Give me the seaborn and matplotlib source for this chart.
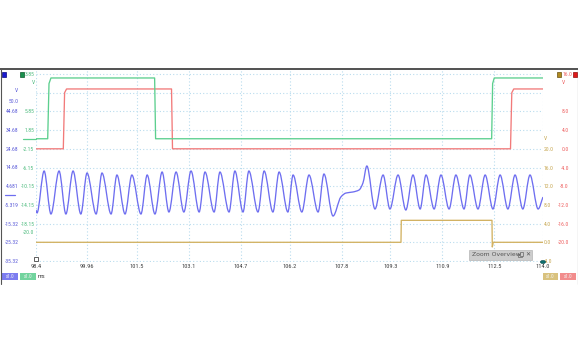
import matplotlib
matplotlib.use("Agg")
import matplotlib.pyplot as plt
import matplotlib.transforms as mtransforms
from matplotlib.patches import Rectangle, Circle, PathPatch
from matplotlib.lines import Line2D
from matplotlib.path import Path
import numpy as np
import seaborn as sns
import pandas as pd

# ---------------- data ----------------
x_ticks = [98.4, 99.96, 101.5, 103.1, 104.7, 106.2, 107.8, 109.3, 110.9, 112.5, 114.0]
x_tick_labels = ["98.4", "99.96", "101.5", "103.1", "104.7", "106.2",
                 "107.8", "109.3", "110.9", "112.5", "114.0"]

blue_t = [98.40, 98.43, 98.65, 98.86, 99.11, 99.32, 99.54, 99.78, 99.97, 100.25, 100.43,
          100.71, 100.89, 101.14, 101.35, 101.63, 101.82, 102.06, 102.28, 102.49, 102.71,
          102.95, 103.17, 103.42, 103.60, 103.88, 104.06, 104.34, 104.52, 104.77, 104.95,
          105.23, 105.42, 105.69, 105.88, 106.15, 106.31, 106.58, 106.80, 107.08, 107.26,
          107.54, 107.78, 107.94, 108.15, 108.34, 108.46, 108.58, 108.83, 109.08, 109.29,
          109.54, 109.78, 110.00, 110.22, 110.40, 110.65, 110.86, 111.11, 111.32, 111.57,
          111.75, 112.00, 112.22, 112.46, 112.68, 112.92, 113.14, 113.38, 113.60, 113.85,
          114.00]
blue_v = [-8.0, -9.65, 12.81, -10.19, 12.81, -10.19, 12.81, -10.19, 11.74, -10.19, 11.74,
          -10.19, 10.67, -10.19, 10.67, -10.19, 10.67, -10.19, 12.27, -9.12, 12.27,
          -9.12, 12.81, -9.12, 12.27, -9.12, 12.27, -9.12, 12.81, -9.12, 12.81,
          -9.12, 12.81, -9.12, 12.27, -9.12, 10.67, -9.12, 10.67, -9.12, 11.20,
          -11.26, -1.10, 1.04, 1.58, 2.65, 6.39, 15.48, -7.51, 10.67, -7.51,
          10.67, -8.05, 10.67, -7.51, 10.67, -7.51, 10.67, -7.51, 10.67, -7.51,
          10.67, -7.51, 10.67, -7.51, 10.67, -7.51, 10.67, -7.51, 10.67, -7.51,
          -1.10]

green_t = [98.40, 98.76, 98.80, 98.86, 102.05, 102.08, 112.42, 112.45, 112.50, 114.00]
green_v = [0.0, 0.0, 11.8, 13.0, 13.0, 0.0, 0.0, 11.8, 13.0, 13.0]

red_t = [98.40, 99.24, 99.28, 99.34, 102.57, 102.60, 113.00, 113.04, 113.10, 114.00]
red_v = [0.0, 0.0, 12.0, 12.8, 12.8, 0.0, 0.0, 12.0, 12.8, 12.8]

gold_t = [98.40, 109.63, 109.64, 112.43, 112.44, 112.47, 114.00]
gold_v = [0.0, 0.0, 4.7, 4.7, -1.0, 0.0, 0.0]

blue_tick_values = [-35.32, -25.32, -15.32, -5.319, 4.681, 14.68, 24.68, 34.68, 44.68, 50.0]
blue_tick_labels = ["-35.32", "-25.32", "-15.32", "-5.319", "4.681", "14.68", "24.68",
                    "34.68", "44.68", "50.0"]
green_tick_values = [-20.0, -18.15, -14.15, -10.15, -6.15, -2.15, 1.85, 5.85, 13.85]
green_tick_labels = ["-20.0", "-18.15", "-14.15", "-10.15", "-6.15", "-2.15", "1.85",
                     "5.85", "3.85"]
red_tick_values = [-20.0, -16.0, -12.0, -8.0, -4.0, 0.0, 4.0, 8.0]
red_tick_labels = ["-20.0", "-16.0", "-12.0", "-8.0", "-4.0", "0.0", "4.0", "8.0"]
red_top_value = 16.0
red_top_label = "16.0"
gold_tick_values = [-4.0, 0.0, 4.0, 8.0, 12.0, 16.0, 20.0]
gold_tick_labels = ["-4.0", "0.0", "4.0", "8.0", "12.0", "16.0", "20.0"]

# channel scales: value at lowest division, units per division
blue_scale = (-35.32, 10.0)
green_scale = (-26.15, 4.0)
red_scale = (-24.0, 4.0)
gold_scale = (-4.0, 4.0)

# ---------------- style ----------------
W, H = 578, 350
C_BLUE, C_GREEN, C_RED, C_GOLD = "#6e6ef0", "#5ccf8e", "#f27a7a", "#d2b262"
L_BLUE, L_GREEN, L_RED, L_GOLD = "#5a5ad8", "#4dbb7e", "#ee5f5f", "#c6a650"
GRID = "#b9dcee"
FS = 4.6
FSY = 4.1

sns.set_style("white")
plt.rcParams["font.family"] = ["Roboto Condensed", "DejaVu Sans"]
fig = plt.figure(figsize=(W / 100, H / 100), dpi=100)
fig.patch.set_facecolor("white")


def fx(x):
    return x / W


def fy(y):
    return 1 - y / H


PX_TOP, PX_BOT, PX_DIV0, PX_DIV = 69, 262, 261, 18.7
DIV_LO = (PX_DIV0 - PX_BOT) / PX_DIV
DIV_HI = (PX_DIV0 - PX_TOP) / PX_DIV

ax = fig.add_axes([fx(36), fy(PX_BOT), (543 - 36) / W, (PX_BOT - PX_TOP) / H])
ax.set_xlim(x_ticks[0], x_ticks[-1])
ax.set_ylim(DIV_LO, DIV_HI)
ax.set_yticks(list(range(11)))
ax.set_xticks(x_ticks)
ax.set_xticklabels(x_tick_labels)
ax.grid(True, color=GRID, linestyle=(0, (1, 2)), linewidth=0.8)
ax.tick_params(axis="y", left=False, labelleft=False, right=False, labelright=False, length=0)
ax.tick_params(axis="x", length=0, pad=1.4, labelsize=FS, labelcolor="#404040")
ax.set_facecolor("none")
for s in ax.spines.values():
    s.set_visible(False)


def smooth_path(t, v):
    t = np.asarray(t, float)
    v = np.asarray(v, float)
    n = len(t)
    d = np.diff(v) / np.diff(t)
    m = np.zeros(n)
    for i in range(1, n - 1):
        if d[i - 1] * d[i] > 0:
            m[i] = 2.0 / (1.0 / d[i - 1] + 1.0 / d[i])
    m[0], m[-1] = d[0], d[-1]
    verts = [(t[0], v[0])]
    codes = [Path.MOVETO]
    for i in range(n - 1):
        h = t[i + 1] - t[i]
        verts += [(t[i] + h / 3, v[i] + m[i] * h / 3),
                  (t[i + 1] - h / 3, v[i + 1] - m[i + 1] * h / 3),
                  (t[i + 1], v[i + 1])]
        codes += [Path.CURVE4] * 3
    return Path(verts, codes)


def channel(t, v, scale, color, tvals, tlabs, side, pad, ha, lcolor, smooth=False):
    a = ax.twinx()
    lo, st = scale
    a.set_ylim(lo + DIV_LO * st, lo + DIV_HI * st)
    if smooth:
        a.add_patch(PathPatch(smooth_path(t, v), facecolor="none", edgecolor=color,
                              linewidth=0.95, transform=a.transData))
    else:
        df = pd.DataFrame({"t": t, "v": v})
        sns.lineplot(data=df, x="t", y="v", ax=a, color=color, linewidth=0.95,
                     estimator=None, sort=False)
    a.set_xlim(x_ticks[0], x_ticks[-1])
    a.set_ylim(lo + DIV_LO * st, lo + DIV_HI * st)
    a.set_yticks(tvals)
    a.set_yticklabels(tlabs)
    a.set_xlabel("")
    a.set_ylabel("")
    for s in a.spines.values():
        s.set_visible(False)
    if side == "left":
        a.tick_params(axis="y", left=True, right=False, labelleft=True, labelright=False,
                      length=0, pad=pad, labelsize=FSY, labelcolor=lcolor)
    else:
        a.tick_params(axis="y", left=False, right=True, labelleft=False, labelright=True,
                      length=0, pad=pad, labelsize=FSY, labelcolor=lcolor)
    for lab in a.get_yticklabels():
        lab.set_ha(ha)
    a.grid(False)
    return a


ax_gold = channel(gold_t, gold_v, gold_scale, C_GOLD, gold_tick_values, gold_tick_labels,
                  "right", 0.7, "left", L_GOLD)
ax_red = channel(red_t, red_v, red_scale, C_RED, red_tick_values, red_tick_labels,
                 "right", 18.7, "right", L_RED)
ax_green = channel(green_t, green_v, green_scale, C_GREEN, green_tick_values, green_tick_labels,
                   "left", 1.1, "right", L_GREEN)
ax_blue = channel(blue_t, blue_v, blue_scale, C_BLUE, blue_tick_values, blue_tick_labels,
                  "left", 12.6, "right", L_BLUE, smooth=True)

# red upper-limit label, between the two top-right squares
tr_red = mtransforms.blended_transform_factory(fig.transFigure, ax_red.transData)
ax_red.text(fx(572), red_top_value, red_top_label, transform=tr_red, color=L_RED,
            fontsize=FSY, ha="right", va="center", clip_on=False)

# zero-level markers on the left
for a, col, x0, x1 in [(ax_blue, C_BLUE, 5, 15), (ax_green, C_GREEN, 23, 36)]:
    tr = mtransforms.blended_transform_factory(fig.transFigure, a.transData)
    a.add_line(Line2D([fx(x0), fx(x1)], [0, 0], transform=tr, color=col, lw=0.9, clip_on=False))

# unit labels
fig.text(fx(16), fy(91), "V", color=L_BLUE, fontsize=FSY, ha="center", va="center")
fig.text(fx(33), fy(83), "V", color=L_GREEN, fontsize=FSY, ha="center", va="center")
fig.text(fx(563), fy(83), "V", color=L_RED, fontsize=FSY, ha="center", va="center")
fig.text(fx(545), fy(138), "V", color=L_GOLD, fontsize=FSY, ha="center", va="center")

# window frame
fig.add_artist(Line2D([0, 1], [fy(69), fy(69)], color="#333333", lw=1.2))
fig.add_artist(Line2D([fx(0.5), fx(0.5)], [fy(69), fy(284)], color="#555555", lw=0.8))
fig.add_artist(Line2D([fx(577.5), fx(577.5)], [fy(69), fy(284)], color="#555555", lw=0.8))


def square(x0, y0, s, fc, ec):
    fig.add_artist(Rectangle((fx(x0), fy(y0 + s)), s / W, s / H, facecolor=fc,
                             edgecolor=ec, lw=0.5, transform=fig.transFigure))


square(2, 72.5, 4, "#1a1ad0", "#0a0a80")
square(19.5, 72.5, 4, "#17904c", "#0b5a2c")
square(556.5, 72.5, 4, "#b08a20", "#6a5010")
square(573, 72.5, 4, "#e01818", "#900a0a")


def chip(x0, x1, fc):
    fig.add_artist(Rectangle((fx(x0), fy(279.5)), (x1 - x0) / W, 7 / H, facecolor=fc,
                             edgecolor="none", transform=fig.transFigure))
    fig.text(fx((x0 + x1) / 2), fy(276), "x1.0", color="#f4f4f4", fontsize=3.6,
             ha="center", va="center")


chip(2, 18, "#7c7cf0")
chip(20, 35.5, "#72d49e")
chip(543, 558, "#d9c27e")
chip(560, 575.5, "#f28c8c")
fig.text(fx(37.5), fy(276.5), "ms", color="#404040", fontsize=FS, ha="left", va="center")

# small hollow square at cursor start, teal dot at end
fig.add_artist(Rectangle((fx(33.5), fy(261)), 4 / W, 4 / H, facecolor="white",
                         edgecolor="#444444", lw=0.6, transform=fig.transFigure))
fig.add_artist(Circle((fx(543), fy(262)), 2.6 / W, facecolor="#0e6e6e",
                      edgecolor="#0a4a4a", lw=0.4, transform=fig.transFigure))

# zoom overview box
fig.add_artist(Rectangle((fx(469), fy(259.5)), 63 / W, 9.5 / H, facecolor="#cdcdcd",
                         edgecolor="#b5b5b5", lw=0.5, transform=fig.transFigure))
fig.text(fx(471.5), fy(254.8), "Zoom Overview", color="#555555", fontsize=4.4,
         family=["DejaVu Sans"], ha="left", va="center")
# "pop-out" icon drawn as two small overlapping boxes
fig.add_artist(Rectangle((fx(518), fy(257)), 3.5 / W, 3.5 / H, facecolor="none",
                         edgecolor="#666666", lw=0.5, transform=fig.transFigure))
fig.add_artist(Rectangle((fx(519.5), fy(255.5)), 3.5 / W, 3.5 / H, facecolor="#cdcdcd",
                         edgecolor="#666666", lw=0.5, transform=fig.transFigure))
fig.text(fx(527.5), fy(254.8), "\u2715", color="#555555", fontsize=4.3,
         family=["DejaVu Sans"], ha="center", va="center")

fig.savefig("out.png", dpi=100, facecolor="white")
